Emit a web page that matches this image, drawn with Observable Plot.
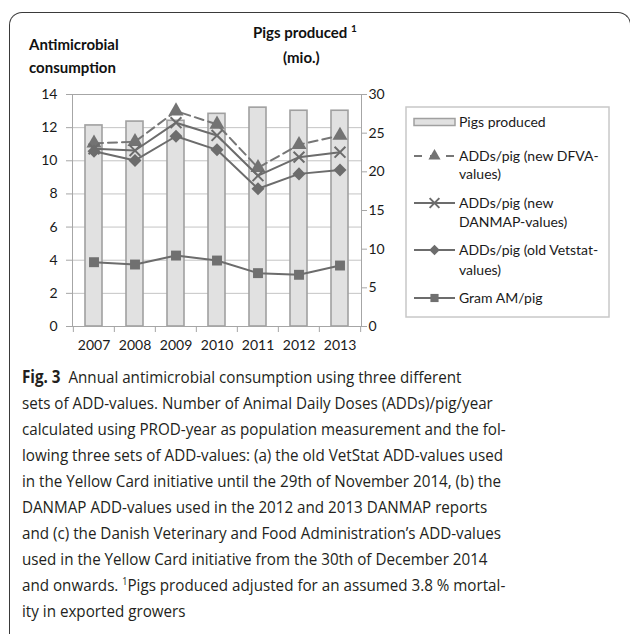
<!DOCTYPE html>
<html><head><meta charset="utf-8">
<script src="https://cdn.jsdelivr.net/npm/d3@7"></script>
<script src="https://cdn.jsdelivr.net/npm/@observablehq/plot@0.6"></script>
<style>
html,body{margin:0;padding:0;background:#fff;}
body{width:630px;height:634px;overflow:hidden;position:relative;font-family:Lato,sans-serif;}
#frame{position:absolute;left:9px;top:12px;width:622px;height:640px;border:1.4px solid #3a3a3a;border-bottom:none;border-radius:13px 13px 0 0;box-sizing:border-box;}
#chart{position:absolute;left:0;top:0;}
#legend{position:absolute;left:0;top:0;}
.t{position:absolute;white-space:nowrap;font-weight:bold;color:#111;font-size:15px;line-height:1;font-family:Lato,sans-serif;}
.t sup{font-size:10px;vertical-align:6px;line-height:0;}
.cap{position:absolute;left:22px;white-space:nowrap;font-family:"Liberation Sans Narrow","Open Sans",sans-serif;font-size:17px;line-height:1;color:#231f20;transform-origin:0 50%;}
.cap sup{font-size:10px;vertical-align:6px;line-height:0;}
</style>
</head><body>
<div id="frame"></div>
<div id="chart"></div>
<div class="t" style="left:29px;top:37px">Antimicrobial</div>
<div class="t" style="left:29px;top:60px">consumption</div>
<div class="t" style="left:253px;top:25px">Pigs produced <sup>1</sup></div>
<div class="t" style="left:283px;top:50px">(mio.)</div>
<div id="caption"></div>
<script>
// ---- data ----
const years = ["2007", "2008", "2009", "2010", "2011", "2012", "2013"];
const pigsProduced = [26.0, 26.5, 26.6, 27.5, 28.3, 27.9, 27.9];      // mio. (right axis)
const addsDFVA     = [11.06, 11.15, 13.0, 12.2, 9.58, 10.97, 11.53];
const addsDANMAP   = [10.72, 10.62, 12.3, 11.53, 9.1, 10.22, 10.52];
const addsVetstat  = [10.57, 10.02, 11.48, 10.66, 8.31, 9.21, 9.45];
const gramAM       = [3.88, 3.74, 4.28, 3.98, 3.22, 3.12, 3.68];
const leftTicks  = [0, 2, 4, 6, 8, 10, 12, 14];
const rightTicks = [0, 5, 10, 15, 20, 25, 30];
const legendLabels = [
  ["Pigs produced"],
  ["ADDs/pig (new DFVA-", "values)"],
  ["ADDs/pig (new", "DANMAP-values)"],
  ["ADDs/pig (old Vetstat-", "values)"],
  ["Gram AM/pig"]
];
const captionLines = [
  "<b>Fig. 3</b>&nbsp;&nbsp;Annual antimicrobial consumption using three different",
  "sets of ADD-values. Number of Animal Daily Doses (ADDs)/pig/year",
  "calculated using PROD-year as population measurement and the fol-",
  "lowing three sets of ADD-values: (a) the old VetStat ADD-values used",
  "in the Yellow Card initiative until the 29th of November 2014, (b) the",
  "DANMAP ADD-values used in the 2012 and 2013 DANMAP reports",
  "and (c) the Danish Veterinary and Food Administration’s ADD-values",
  "used in the Yellow Card initiative from the 30th of December 2014",
  "and onwards. <sup>1</sup>Pigs produced adjusted for an assumed 3.8 % mortal-",
  "ity in exported growers"
];

const rows = years.map((y, i) => ({
  year: y, pigs: pigsProduced[i], dfva: addsDFVA[i], danmap: addsDANMAP[i],
  vetstat: addsVetstat[i], gram: gramAM[i]
}));

const k = 14 / 30; // right axis (0-30) mapped onto left axis (0-14)
const W = 630, H = 360, mL = 72, mR = 269, mT = 94, mB = 34;
const step = (W - mL - mR) / years.length;
const axisGray = "#a6a6a6";
const lineGray = "#6c6c6c";

const chart = Plot.plot({
  width: W, height: H,
  marginLeft: mL, marginRight: mR, marginTop: mT, marginBottom: mB,
  style: {fontFamily: "Lato, sans-serif", fontSize: "14px", color: "#1a1a1a", background: "transparent", overflow: "visible"},
  x: {domain: years, paddingInner: 0.59, paddingOuter: 0.295, axis: null},
  y: {domain: [0, 14], axis: null},
  marks: [
    Plot.gridY({ticks: leftTicks, stroke: "#c4c4c4", strokeOpacity: 1}),
    Plot.barY(rows, {x: "year", y: d => d.pigs * k, fill: "#e1e1e1", stroke: "#a0a0a0", strokeWidth: 1.6}),
    Plot.frame({stroke: axisGray}),
    Plot.axisY({ticks: leftTicks, tickSize: 6, tickPadding: 9, stroke: axisGray, label: null, fontSize: 14}),
    Plot.axisY({anchor: "right", ticks: rightTicks.map(v => v * k), tickFormat: d => String(Math.round(d / k)),
      tickSize: 5, tickPadding: 2, stroke: axisGray, label: null, fontSize: 14}),
    Plot.axisX({tickSize: 6, tickFormat: () => "", dx: -step / 2, stroke: axisGray, label: null}),
    Plot.axisX({ticks: [years[years.length - 1]], tickSize: 6, tickFormat: () => "", dx: step / 2, stroke: axisGray, label: null}),
    Plot.axisX({tickSize: 0, tickPadding: 14, label: null, fontSize: 14}),
    // DFVA
    Plot.line(rows, {x: "year", y: "dfva", stroke: "#767676", strokeWidth: 2, strokeDasharray: "9,5"}),
    Plot.dot(rows, {x: "year", y: "dfva", symbol: "triangle", r: 5.6, fill: "#737373", stroke: "none"}),
    // DANMAP
    Plot.line(rows, {x: "year", y: "danmap", stroke: lineGray, strokeWidth: 2}),
    Plot.dot(rows, {x: "year", y: "danmap", symbol: "times", r: 5, stroke: lineGray, strokeWidth: 2, fill: "none"}),
    // Vetstat
    Plot.line(rows, {x: "year", y: "vetstat", stroke: lineGray, strokeWidth: 2}),
    Plot.dot(rows, {x: "year", y: "vetstat", symbol: "square", rotate: 45, r: 5.2, fill: lineGray, stroke: "none"}),
    // Gram
    Plot.line(rows, {x: "year", y: "gram", stroke: lineGray, strokeWidth: 2}),
    Plot.dot(rows, {x: "year", y: "gram", symbol: "square", r: 5.6, fill: "#707070", stroke: "none"})
  ]
});
document.getElementById("chart").appendChild(chart);

// ---- legend ----
const svg = d3.select("#legend").empty() ? d3.select("body").append("svg").attr("id", "legend") : d3.select("#legend");
svg.attr("width", W).attr("height", H).style("position", "absolute").style("left", "0px").style("top", "0px");
svg.append("rect").attr("x", 406).attr("y", 107).attr("width", 203).attr("height", 210)
  .attr("fill", "#fff").attr("stroke", "#c8c8c8").attr("stroke-width", 1.5);
const rowY = [[122], [156, 174], [203, 222], [250, 270], [298]];
const sx0 = 414, sx1 = 455, sxc = 434.5, tx = 459;
legendLabels.forEach((lines, i) => {
  lines.forEach((t, j) => {
    svg.append("text").attr("x", tx).attr("y", rowY[i][j]).attr("dy", "0.35em")
      .attr("font-family", "Lato, sans-serif").attr("font-size", 14).attr("fill", "#1a1a1a").text(t);
  });
});
const ly = rowY.map(r => r[0]);
svg.append("rect").attr("x", sx0).attr("y", ly[0] - 3.5).attr("width", sx1 - sx0).attr("height", 7)
  .attr("fill", "#e1e1e1").attr("stroke", "#a0a0a0").attr("stroke-width", 1.5);
// DFVA
svg.append("line").attr("x1", sx0).attr("x2", sx1).attr("y1", ly[1]).attr("y2", ly[1])
  .attr("stroke", "#767676").attr("stroke-width", 2).attr("stroke-dasharray", "8,8").attr("stroke-dashoffset", 0);
svg.append("path").attr("d", d3.symbol(d3.symbolTriangle, Math.PI * 4.5 * 4.5)()).attr("transform", `translate(${sxc},${ly[1]})`).attr("fill", "#737373");
// DANMAP
svg.append("line").attr("x1", sx0).attr("x2", sx1).attr("y1", ly[2]).attr("y2", ly[2]).attr("stroke", lineGray).attr("stroke-width", 2);
svg.append("path").attr("d", d3.symbol(d3.symbolTimes, Math.PI * 4.5 * 4.5)()).attr("transform", `translate(${sxc},${ly[2]})`).attr("stroke", lineGray).attr("stroke-width", 2).attr("fill", "none");
// Vetstat
svg.append("line").attr("x1", sx0).attr("x2", sx1).attr("y1", ly[3]).attr("y2", ly[3]).attr("stroke", lineGray).attr("stroke-width", 2);
svg.append("path").attr("d", d3.symbol(d3.symbolSquare, Math.PI * 4.2 * 4.2)()).attr("transform", `translate(${sxc},${ly[3]}) rotate(45)`).attr("fill", lineGray);
// Gram
svg.append("line").attr("x1", sx0).attr("x2", sx1).attr("y1", ly[4]).attr("y2", ly[4]).attr("stroke", lineGray).attr("stroke-width", 2);
svg.append("path").attr("d", d3.symbol(d3.symbolSquare, Math.PI * 4.6 * 4.6)()).attr("transform", `translate(${sxc},${ly[4]})`).attr("fill", "#707070");

// ---- caption ----
const cap = document.getElementById("caption");
const els = captionLines.map((html, i) => {
  const d = document.createElement("div");
  d.className = "cap";
  d.style.top = (377 + 26 * i - 9) + "px";
  d.innerHTML = html;
  cap.appendChild(d);
  return d;
});
const s = 481 / els[3].getBoundingClientRect().width;
els.forEach(d => d.style.transform = `scaleX(${s})`);
</script>
</body></html>
